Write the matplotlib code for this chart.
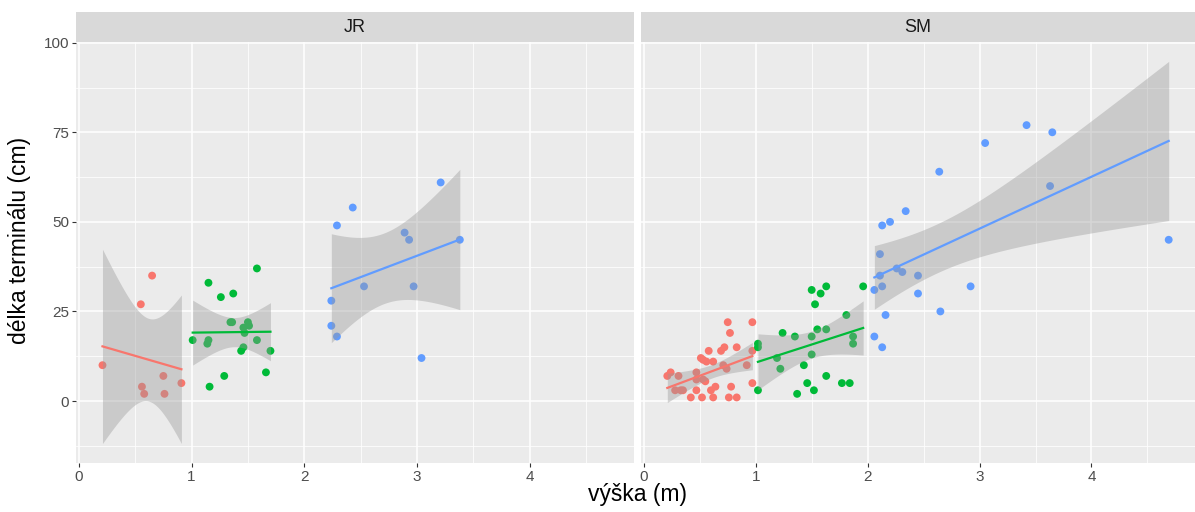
import numpy as np
import matplotlib
matplotlib.use("Agg")
import matplotlib.pyplot as plt

plt.rcParams['font.family'] = ['Liberation Sans', 'DejaVu Sans']

# data: (height m, terminal length cm) per panel and height class
jrRedX = [0.21, 0.55, 0.65, 0.56, 0.58, 0.75, 0.76, 0.91]
jrRedY = [10, 27, 35, 4, 2, 7, 2, 5]
jrGreenX = [1.01, 1.15, 1.26, 1.37, 1.58, 1.15, 1.14, 1.16, 1.29, 1.345,
            1.36, 1.44, 1.46, 1.47, 1.46, 1.50, 1.51, 1.58, 1.66, 1.70]
jrGreenY = [17, 33, 29, 30, 37, 17, 16, 4, 7, 22,
            22, 14, 15, 19, 20.5, 22, 21, 17, 8, 14]
jrBlueX = [3.21, 2.43, 2.29, 2.89, 2.93, 3.38, 2.53, 2.97, 2.24, 2.24, 2.29, 3.04]
jrBlueY = [61, 54, 49, 47, 45, 45, 32, 32, 28, 21, 18, 12]

smRedX = [0.75, 0.97, 0.77, 0.58, 0.69, 0.72, 0.83, 0.97, 0.51, 0.53,
          0.56, 0.62, 0.71, 0.74, 0.92, 0.21, 0.24, 0.31, 0.47, 0.47,
          0.53, 0.55, 0.28, 0.33, 0.35, 0.47, 0.60, 0.64, 0.78, 0.42,
          0.52, 0.62, 0.76, 0.83, 0.97]
smRedY = [22, 22, 19, 14, 14, 15, 15, 14, 12, 11.5,
          11, 11, 10, 9, 10, 7, 8, 7, 8, 6,
          6, 5.5, 3, 3, 3, 3, 3, 4, 4, 1,
          1, 1, 1, 1, 5]
smGreenX = [1.02, 1.02, 1.02, 1.24, 1.19, 1.22, 1.35, 1.43, 1.46, 1.37,
            1.52, 1.50, 1.50, 1.55, 1.63, 1.63, 1.50, 1.58, 1.63, 1.53,
            1.77, 1.84, 1.81, 1.87, 1.87, 1.96]
smGreenY = [16, 15, 3, 19, 12, 9, 18, 10, 5, 2,
            3, 18, 13, 20, 20, 7, 31, 30, 32, 27,
            5, 5, 24, 18, 16, 32]
smBlueX = [3.42, 3.65, 3.05, 2.64, 3.63, 2.34, 2.13, 2.20, 2.11, 4.69,
           2.11, 2.26, 2.31, 2.45, 2.13, 2.06, 2.45, 2.92, 2.16, 2.65,
           2.06, 2.13]
smBlueY = [77, 75, 72, 64, 60, 53, 49, 50, 41, 45,
           35, 37, 36, 35, 32, 31, 30, 32, 24, 25,
           18, 15]

panelNames = ["JR", "SM"]
groupColors = ["#F8766D", "#00BA38", "#619CFF"]
xTicks = [0, 1, 2, 3, 4]
yTicks = [0, 25, 50, 75, 100]


def tQuantile(df, z=1.959964):
    # Cornish-Fisher expansion of the Student t quantile
    return (z + (z**3 + z) / (4 * df)
            + (5 * z**5 + 16 * z**3 + 3 * z) / (96 * df**2)
            + (3 * z**7 + 19 * z**5 + 17 * z**3 - 15 * z) / (384 * df**3)
            + (79 * z**9 + 776 * z**7 + 1482 * z**5 - 1920 * z**3 - 945 * z) / (92160 * df**4))


def drawSmooth(ax, x, y, color):
    x = np.asarray(x, float)
    y = np.asarray(y, float)
    n = len(x)
    slope, intercept = np.polyfit(x, y, 1)
    resid = y - (intercept + slope * x)
    s = np.sqrt(np.sum(resid ** 2) / (n - 2))
    sxx = np.sum((x - x.mean()) ** 2)
    xs = np.linspace(x.min(), x.max(), 80)
    fit = intercept + slope * xs
    se = s * np.sqrt(1.0 / n + (xs - x.mean()) ** 2 / sxx)
    t = tQuantile(n - 2)
    ax.fill_between(xs, fit - t * se, fit + t * se, color="#999999", alpha=0.4,
                    linewidth=0, zorder=4)
    ax.plot(xs, fit, color=color, linewidth=1.6, zorder=5)


fig = plt.figure(figsize=(11.95, 5.12), dpi=100)
W, H = 1195.0, 512.0
panelBoxes = [(76, 634), (641, 1195)]
panelTop, panelBottom, stripTop = 42, 463, 12

groups = [
    [(jrRedX, jrRedY), (jrGreenX, jrGreenY), (jrBlueX, jrBlueY)],
    [(smRedX, smRedY), (smGreenX, smGreenY), (smBlueX, smBlueY)],
]

for p, (x0, x1) in enumerate(panelBoxes):
    ax = fig.add_axes([x0 / W, 1 - panelBottom / H, (x1 - x0) / W, (panelBottom - panelTop) / H])
    ax.set_facecolor("#EBEBEB")
    for sp in ax.spines.values():
        sp.set_visible(False)
    ax.set_xlim(-0.025, 4.925)
    ax.set_ylim(-17.3, 100.2)
    ax.set_xticks(xTicks)
    ax.set_xticks(np.arange(0.5, 5, 1), minor=True)
    ax.set_yticks(yTicks)
    ax.set_yticks(np.arange(12.5, 100, 25).tolist() + [-12.5], minor=True)
    ax.grid(which="major", color="white", linewidth=1.1, zorder=0)
    ax.grid(which="minor", color="white", linewidth=0.55, zorder=0)
    ax.set_axisbelow(True)
    ax.tick_params(which="major", length=3, width=0.8, color="#333333",
                   labelsize=11, labelcolor="#4D4D4D", pad=2)
    ax.tick_params(which="minor", length=0)
    if p == 1:
        ax.tick_params(axis="y", which="major", length=0, labelleft=False)

    for (gx, gy), col in zip(groups[p], groupColors):
        ax.scatter(gx, gy, s=32, color=col, edgecolors="none", zorder=3)
    for (gx, gy), col in zip(groups[p], groupColors):
        drawSmooth(ax, gx, gy, col)

    strip = fig.add_axes([x0 / W, 1 - panelTop / H, (x1 - x0) / W, (panelTop - stripTop) / H])
    strip.set_facecolor("#D9D9D9")
    strip.set_xticks([])
    strip.set_yticks([])
    for sp in strip.spines.values():
        sp.set_visible(False)
    strip.text(0.5, 0.5, panelNames[p], ha="center", va="center", fontsize=13,
               color="#1A1A1A", transform=strip.transAxes)

fig.text(637 / W, 1 - 494 / H, "výška (m)", ha="center", va="center", fontsize=16.5)
fig.text(20 / W, 1 - 240 / H, "délka terminálu (cm)", ha="center", va="center",
         rotation=90, fontsize=16.5)

fig.savefig("out.png", dpi=100, facecolor="white")
